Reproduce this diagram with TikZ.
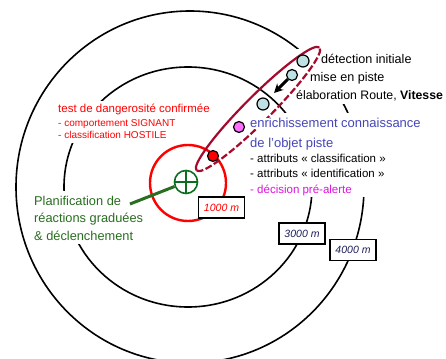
\documentclass[tikz,border=0pt]{standalone}
\usepackage{fontspec}
\setmainfont{Liberation Sans}
\usepackage{tikz}
\definecolor{trackRed}{RGB}{165, 10, 45}
\definecolor{planGreen}{RGB}{40, 110, 30}
\definecolor{crossGreen}{RGB}{10, 110, 30}
\definecolor{infoBlue}{RGB}{70, 70, 185}
\definecolor{alertMagenta}{RGB}{220, 20, 220}
\definecolor{dotCyan}{RGB}{190, 225, 228}
\definecolor{dotMagenta}{RGB}{255, 110, 255}
\definecolor{rangeNavy}{RGB}{30, 30, 90}
\usetikzlibrary{arrows.meta, positioning}
\newcommand{\txtsize}[1]{\fontsize{#1}{#1}\selectfont}

\begin{document}
\begin{tikzpicture}[
    x=1pt, y=-1pt,
    ring/.style={black, line width=1.6pt},
    rangebox/.style={rectangle, draw=black, line width=1.2pt, fill=white, minimum width=46pt, minimum height=21pt, inner sep=0pt, font={\txtsize{10.5}\itshape}},
    note/.style={anchor=base west, fill=white, inner sep=1pt},
    trackdot/.style={circle, draw=black, line width=1.2pt, fill=dotCyan, minimum size=12pt, inner sep=0pt},
    trackline/.style={trackRed, line width=2.2pt},
    arrow/.style={-{Stealth[length=9pt, width=9pt]}, line width=3pt, black}
]
    \useasboundingbox (0,0) rectangle (446,358);

    % range rings
    \draw[ring] (190,187) ellipse [x radius=174pt, y radius=176pt];
    \draw[ring] (188,187) ellipse [x radius=124pt, y radius=120pt];
    \draw[red, line width=2.4pt] (188,183) circle [radius=38pt];

    \fill[white] (296,49) rectangle (446,104);
    \fill[white] (248,113) rectangle (420,197);
    \fill[white] (56,101) rectangle (210,143);
    \fill[white] (32,191) rectangle (146,244);

    % track envelope
    \begin{scope}[shift={(258,109)}, rotate=45]
        \draw[trackline] (87pt,0pt) arc[start angle=0, end angle=180, x radius=87pt, y radius=13pt];
        \draw[trackline, dash pattern=on 7pt off 2.5pt] (-87pt,0pt) arc[start angle=180, end angle=360, x radius=87pt, y radius=13pt];
    \end{scope}

    \node[note, font={\txtsize{12.6}}] (detect) at (320,64) {détection initiale};
    \node[note, font={\txtsize{12.6}}] (piste) at (309,82) {mise en piste};
    \node[note, font={\txtsize{12.3}}] (route) at (295,100) {élaboration Route, \textbf{Vitesse}};

    \node[note, text=infoBlue, font={\txtsize{13}}] (enrich) at (249,128) {enrichissement connaissance};
    \node[note, text=infoBlue, font={\txtsize{13}}] (objet) at (249,147) {de l’objet piste};
    \node[note, font={\txtsize{11.5}}] (classif) at (249,162) {- attributs « classification »};
    \node[note, font={\txtsize{11.5}}] (ident) at (249,177) {- attributs « identification »};
    \node[note, text=alertMagenta, font={\txtsize{11.5}}] (prealerte) at (249,193) {- décision pré-alerte};

    \node[note, text=red, font={\txtsize{11.5}}] (danger) at (57,113) {test de dangerosité confirmée};
    \node[note, text=red, font={\txtsize{10}}] (signant) at (57,127) {- comportement SIGNANT};
    \node[note, text=red, font={\txtsize{10}}] (hostile) at (57,139) {- classification HOSTILE};

    \node[note, text=planGreen, font={\txtsize{12.8}}] (plan) at (33,205) {Planification de};
    \node[note, text=planGreen, font={\txtsize{12.8}}] (reac) at (33,222) {réactions graduées};
    \node[note, text=planGreen, font={\txtsize{12.8}}] (declen) at (33,240) {\& déclenchement};

    \node[trackdot] (det) at (303,61) {};
    \node[trackdot, minimum size=11pt] (misp) at (292,75) {};
    \node[trackdot] (elab) at (263,104) {};
    \node[trackdot, fill=dotMagenta, minimum size=11pt] (enr) at (239,127) {};
    \node[trackdot, fill=red, minimum size=11pt] (hostdot) at (213,156) {};

    \coordinate (tip) at (274,93);
    \draw[arrow] (misp) -- (tip);

    \node[circle, draw=crossGreen, line width=1.6pt, minimum size=23pt, inner sep=0pt] (cross) at (186,182) {};
    \draw[crossGreen, line width=1.4pt] (cross.north) -- (cross.south) (cross.west) -- (cross.east);
    \coordinate (planend) at (130,204);
    \draw[planGreen, line width=3pt] (planend) -- (cross);

    \node[rangebox, text=red] (r1000) at (221.5,207.5) {1000 m};
    \node[rangebox, text=rangeNavy] (r3000) at (302,233.5) {3000 m};
    \node[rangebox, text=rangeNavy] (r4000) at (353,250) {4000 m};
\end{tikzpicture}
\end{document}
